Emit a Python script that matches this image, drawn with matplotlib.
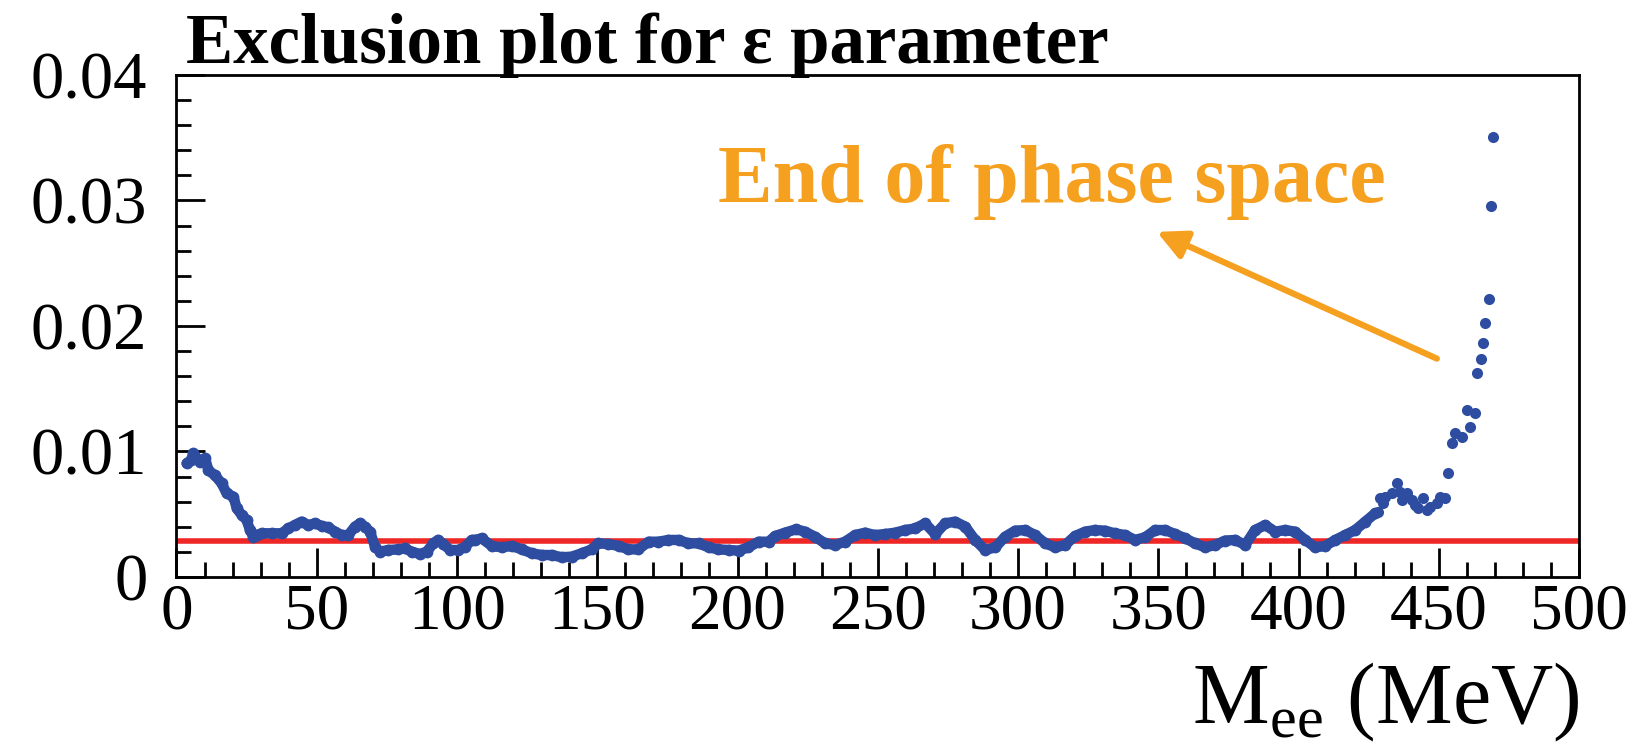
# Exclusion limit on epsilon vs. e+e- invariant mass

import matplotlib
matplotlib.use('Agg')
from matplotlib import pyplot as plt
from matplotlib.ticker import MultipleLocator, FuncFormatter

# upper limit on epsilon, scan over M_ee (MeV)
mass = [3.6, 5.2, 6.0, 8.4, 10.2, 11.4, 13.7, 16.1, 17.9, 20.3, 21.5, 23.2, 25.0,
        26.2, 27.4, 28.6, 30.4, 33.9, 37.5, 39.9, 42.2, 44.6, 47.0, 49.4, 51.8,
        54.1, 56.5, 58.9, 61.3, 63.6, 65.4, 67.2, 69.0, 70.8, 72.6, 75.5, 79.1,
        81.5, 83.8, 86.8, 89.2, 91.6, 93.3, 95.1, 97.5, 100.5, 102.9, 105.2,
        106.4, 108.8, 112.4, 115.9, 119.5, 123.1, 126.6, 130.2, 133.8, 137.3,
        140.9, 144.5, 148.0, 150.4, 154.0, 157.6, 161.1, 164.7, 168.3, 171.8,
        175.4, 179.0, 182.5, 186.1, 189.7, 193.2, 196.8, 200.4, 203.9, 207.5,
        211.1, 213.4, 216.9, 220.9, 224.1, 227.6, 231.2, 234.8, 238.3, 241.9,
        245.5, 249.0, 252.6, 256.2, 259.8, 263.3, 266.9, 270.5, 274.0, 277.6,
        281.2, 284.7, 288.3, 291.9, 295.4, 299.0, 302.6, 306.1, 309.7, 313.3,
        316.8, 320.3, 323.9, 327.4, 331.0, 334.6, 338.2, 341.7, 345.3, 348.9,
        352.4, 356.0, 359.6, 363.1, 366.7, 370.3, 373.8, 377.4, 381.0, 384.5,
        388.1, 391.7, 395.2, 398.8, 402.4, 405.9, 409.5, 413.1, 416.6, 420.2,
        423.8, 427.3]
eps = [0.00905, 0.0093, 0.00985, 0.00918, 0.00945, 0.0085, 0.0081, 0.00746,
       0.00666, 0.0064, 0.00547, 0.00494, 0.00454, 0.00374, 0.00321, 0.00334,
       0.00348, 0.00348, 0.00348, 0.00387, 0.00414, 0.00441, 0.00414, 0.00427,
       0.00406, 0.00395, 0.00361, 0.00334, 0.00334, 0.00401, 0.00427, 0.00401,
       0.00361, 0.00241, 0.00202, 0.00215, 0.0022, 0.00228, 0.00202, 0.00183,
       0.00202, 0.00268, 0.00295, 0.00263, 0.00215, 0.00215, 0.00241, 0.00295,
       0.00295, 0.00308, 0.00247, 0.00236, 0.00247, 0.0022, 0.00189, 0.00175,
       0.00175, 0.00157, 0.00162, 0.00189, 0.0022, 0.00268, 0.00263, 0.00247,
       0.0022, 0.0022, 0.00281, 0.00281, 0.00295, 0.00295, 0.00268, 0.00268,
       0.00236, 0.0022, 0.00215, 0.0021, 0.00236, 0.00281, 0.00281, 0.00326,
       0.00353, 0.0038, 0.00361, 0.00321, 0.00268, 0.00255, 0.00281, 0.00334,
       0.00353, 0.00334, 0.00342, 0.00353, 0.00374, 0.00387, 0.00427, 0.00342,
       0.00427, 0.00441, 0.00401, 0.00295, 0.00215, 0.00236, 0.00321, 0.00369,
       0.00374, 0.00334, 0.00268, 0.00236, 0.00255, 0.00326, 0.00361, 0.00374,
       0.00369, 0.00347, 0.00334, 0.00295, 0.00316, 0.00374, 0.00374, 0.00342,
       0.00308, 0.00268, 0.00236, 0.00255, 0.0029, 0.00295, 0.00255, 0.00374,
       0.00414, 0.00361, 0.00374, 0.00361, 0.00295, 0.00236, 0.00247, 0.00295,
       0.00334, 0.00374, 0.00441, 0.00507]

# sparse points near the end of phase space
tail_mass = [428.5, 429.1, 430.2, 430.8, 433.2, 435.0, 436.2, 436.8, 438.6,
             440.4, 441.5, 442.7, 444.5, 445.7, 446.9, 449.3, 450.4, 452.2,
             453.4, 454.6, 455.8, 458.2, 460.0, 461.1, 462.9, 463.5, 465.0,
             465.7, 466.6, 467.9, 468.6, 469.4]
tail_eps = [0.0052, 0.00626, 0.00587, 0.0064, 0.00666, 0.00746, 0.00679,
            0.00613, 0.00666, 0.00613, 0.00573, 0.00547, 0.00626, 0.00533,
            0.0056, 0.00587, 0.0064, 0.00626, 0.00826, 0.01064, 0.01144,
            0.01117, 0.0133, 0.01197, 0.01303, 0.01622, 0.01736, 0.01861,
            0.02025, 0.02219, 0.02954, 0.03506]

limit = 0.0029
y_ticks = [0.0, 0.01, 0.02, 0.03, 0.04]

blue = '#2E4DA0'
red = '#EE2626'
orange = '#F6A020'

plt.rcParams['font.family'] = ['Liberation Serif', 'DejaVu Serif']
plt.rcParams['mathtext.fontset'] = 'custom'
plt.rcParams['mathtext.rm'] = 'Liberation Serif'

fig = plt.figure(figsize=(16.37, 7.5), dpi=100)
ax = fig.add_axes([0.1078, 0.2307, 0.8568, 0.6693])

ax.axhline(limit, color=red, lw=4, zorder=2)
ax.plot(mass, eps, '-', color=blue, lw=7.5, zorder=3, solid_capstyle='round',
        solid_joinstyle='round')
ax.plot(mass, eps, 'o', color=blue, ms=8.5, mec='none', zorder=3)
ax.plot(tail_mass, tail_eps, 'o', color=blue, ms=8, mec='none', zorder=3)

ax.set_xlim(0, 500)
ax.set_ylim(0, 0.04)
ax.xaxis.set_major_locator(MultipleLocator(50))
ax.xaxis.set_minor_locator(MultipleLocator(10))
ax.set_yticks(y_ticks)
ax.yaxis.set_minor_locator(MultipleLocator(0.002))
ax.yaxis.set_major_formatter(FuncFormatter(lambda v, _: '0' if v == 0 else f'{v:.2f}'))

ax.tick_params(which='both', direction='in', top=False, right=False, width=2)
ax.tick_params(which='major', length=21)
ax.tick_params(which='minor', length=11)
ax.tick_params(axis='x', labelsize=47, pad=4)
ax.tick_params(axis='y', labelsize=48, pad=21)
for s in ax.spines.values():
    s.set_linewidth(2)

# arrow + label
ax.annotate('', xy=(349.5, 0.0275), xytext=(449.3, 0.0174),
            arrowprops=dict(arrowstyle='-|>,head_length=0.8,head_width=0.4',
                            color=orange, lw=4.5, mutation_scale=22,
                            shrinkA=0, shrinkB=0))
ax.text(312, 0.0299, 'End of phase space', ha='center', va='baseline',
        fontsize=59, fontweight='bold', color=orange)

fig.text(0.1136, 0.916, 'Exclusion plot for ε parameter', fontsize=51,
         fontweight='bold', va='baseline')
fig.text(0.9646, 0.035, r'M$_{\mathregular{ee}}$ (MeV)', ha='right',
         va='baseline', fontsize=62)

fig.savefig('out.png', dpi=100)
